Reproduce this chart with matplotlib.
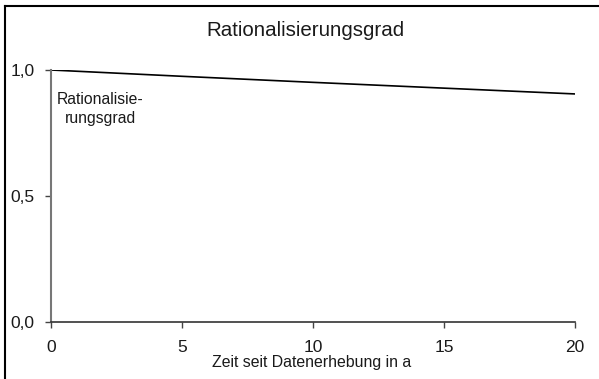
import matplotlib
matplotlib.use("Agg")
import matplotlib.pyplot as plt
from matplotlib.lines import Line2D

plt.rcParams['font.family'] = ['Liberation Sans', 'DejaVu Sans']

years = [0, 5, 10, 15, 20]
rationalisierungsgrad = [1.0, 0.975, 0.951, 0.928, 0.905]
x_ticks = [0, 5, 10, 15, 20]
y_ticks = [0.0, 0.5, 1.0]
y_tick_labels = ["0,0", "0,5", "1,0"]

W, H = 599, 379
fig = plt.figure(figsize=(W/100, H/100), dpi=100)
ax = fig.add_axes([51/W, 1-322/H, (575-51)/W, (322-70)/H])

ax.plot(years, rationalisierungsgrad, color='black', lw=1.2)

ax.set_xlim(0, 20)
ax.set_ylim(0, 1.0)
ax.set_xticks(x_ticks)
ax.set_xticklabels([str(t) for t in x_ticks])
ax.set_yticks(y_ticks)
ax.set_yticklabels(y_tick_labels)
ax.tick_params(axis='both', labelsize=12.5, length=4, width=1, colors='#444444', labelcolor='#1a1a1a')
ax.tick_params(axis='x', pad=9)
ax.tick_params(axis='y', pad=8)

for s in ['top', 'right']:
    ax.spines[s].set_visible(False)
ax.spines['left'].set_color('#777777')
ax.spines['left'].set_linewidth(1.5)
ax.spines['bottom'].set_color('#333333')
ax.spines['bottom'].set_linewidth(1.2)

fig.text(100/W, 1-109/H, "Rationalisie-\nrungsgrad", fontsize=11.3,
         ha='center', va='center', color='#1a1a1a', linespacing=1.3)

fig.text(305/W, 1-30/H, "Rationalisierungsgrad", fontsize=14.8, ha='center', va='center', color='#1a1a1a')
fig.text(312/W, 1-362/H, "Zeit seit Datenerhebung in a", fontsize=11.4, ha='center', va='center', color='#1a1a1a')

# figure frame (top and left edges)
fig.add_artist(Line2D([5/W, 5/W], [0, 1-6/H], transform=fig.transFigure, color='black', lw=1.5))
fig.add_artist(Line2D([5/W, 1], [1-6/H, 1-6/H], transform=fig.transFigure, color='black', lw=1.5))

fig.savefig("out.png", dpi=100)
